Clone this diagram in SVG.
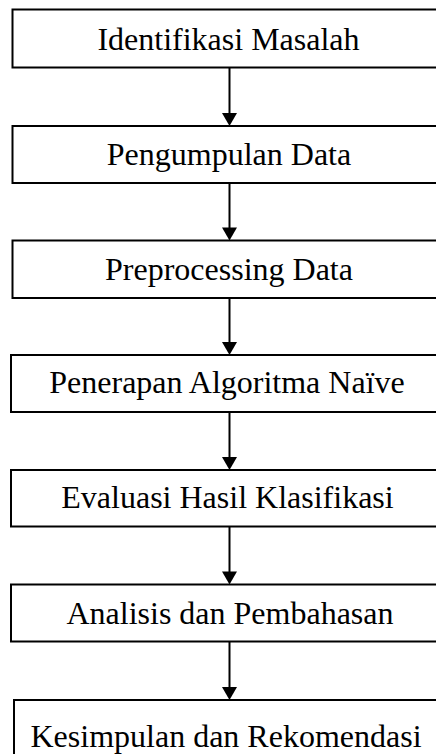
<svg xmlns="http://www.w3.org/2000/svg" width="436" height="754" viewBox="0 0 436 754">
<style>
.box{fill:#fff;stroke:#000;stroke-width:2}
.lbl{font-family:"Liberation Serif","Times New Roman",serif;font-size:32px;fill:#000;text-anchor:middle}
.con{stroke:#000;stroke-width:2;fill:none}
.head{fill:#000}
</style>
<rect width="436" height="754" fill="#fff"/>
<g id="n1"><rect class="box" x="12.5" y="9.5" width="440" height="58"/><text class="lbl" x="228.5" y="50">Identifikasi Masalah</text></g>
<g id="n2"><rect class="box" x="12.5" y="126" width="440" height="57"/><text class="lbl" x="229" y="165">Pengumpulan Data</text></g>
<g id="n3"><rect class="box" x="12.5" y="240.5" width="440" height="57.5"/><text class="lbl" x="229" y="280">Preprocessing Data</text></g>
<g id="n4"><rect class="box" x="11" y="355" width="440" height="57"/><text class="lbl" x="227" y="393">Penerapan Algoritma Naïve</text></g>
<g id="n5"><rect class="box" x="11" y="470" width="440" height="56.5"/><text class="lbl" x="227.5" y="508">Evaluasi Hasil Klasifikasi</text></g>
<g id="n6"><rect class="box" x="11" y="584.5" width="440" height="57"/><text class="lbl" x="230" y="624">Analisis dan Pembahasan</text></g>
<g id="n7"><rect class="box" x="14" y="700" width="440" height="80"/><text class="lbl" x="226" y="747">Kesimpulan dan Rekomendasi</text></g>
<g id="connectors">
<line class="con" x1="229.5" y1="67.5" x2="229.5" y2="114"/><polygon class="head" points="222,113 237,113 229.5,126"/>
<line class="con" x1="229.5" y1="183" x2="229.5" y2="228"/><polygon class="head" points="222,227.5 237,227.5 229.5,240.5"/>
<line class="con" x1="229.5" y1="298" x2="229.5" y2="343"/><polygon class="head" points="222,342 237,342 229.5,355"/>
<line class="con" x1="229.5" y1="412" x2="229.5" y2="458"/><polygon class="head" points="222,457 237,457 229.5,470"/>
<line class="con" x1="229.5" y1="526.5" x2="229.5" y2="572"/><polygon class="head" points="222,571.5 237,571.5 229.5,584.5"/>
<line class="con" x1="229.5" y1="641.5" x2="229.5" y2="688"/><polygon class="head" points="222,687 237,687 229.5,700"/>
</g>
</svg>
